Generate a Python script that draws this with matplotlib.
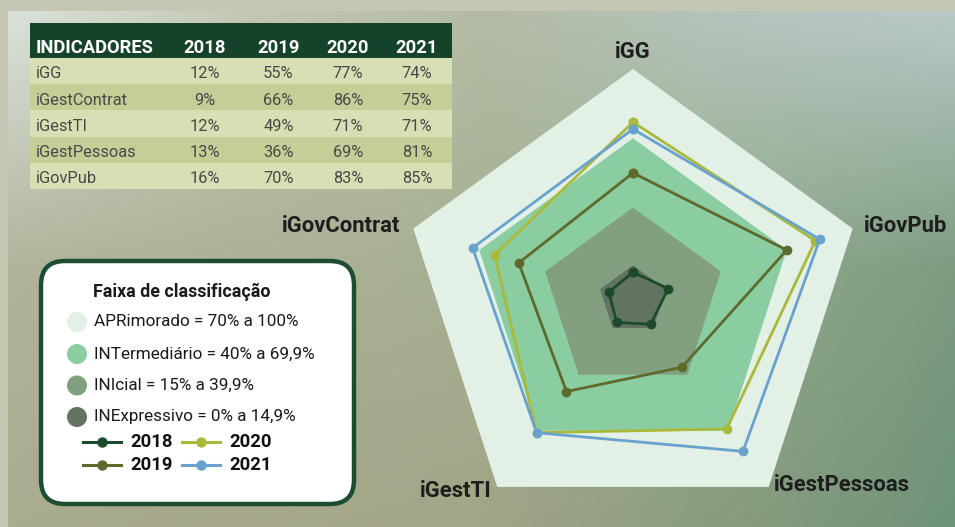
import numpy as np
import matplotlib
matplotlib.use("Agg")
import matplotlib.pyplot as plt
from matplotlib.patches import Rectangle, FancyBboxPatch, Circle
from matplotlib.lines import Line2D

plt.rcParams['font.family'] = ['Roboto', 'DejaVu Sans']

# ---------------- data ----------------
table_indicators = ["iGG", "iGestContrat", "iGestTI", "iGestPessoas", "iGovPub"]
table_years = ["2018", "2019", "2020", "2021"]
table_2018 = [12, 9, 12, 13, 16]
table_2019 = [55, 66, 49, 36, 70]
table_2020 = [77, 86, 71, 69, 83]
table_2021 = [74, 75, 71, 81, 85]

radar_axes = ["iGG", "iGovPub", "iGestPessoas", "iGestTI", "iGovContrat"]
radar_2018 = [12, 16, 13, 12, 11]
radar_2019 = [55, 70, 36, 49, 52]
radar_2020 = [77, 83, 69, 71, 63]
radar_2021 = [74, 85, 81, 71, 73]

band_labels = ["APRimorado = 70% a 100%", "INTermediário = 40% a 69,9%",
               "INIcial = 15% a 39,9%", "INExpressivo = 0% a 14,9%"]
band_levels = [100, 70, 40, 15]
band_colors = ["#e2f0e6", "#8acda1", "#82a080", "#627461"]

series_names = ["2018", "2019", "2020", "2021"]
series_colors = ["#1c4a2c", "#5d6a2c", "#aab93a", "#69a3cd"]
series_vals = [radar_2018, radar_2019, radar_2020, radar_2021]

W, H = 955, 527
fig = plt.figure(figsize=(W / 100, H / 100), dpi=100)
fig.patch.set_facecolor("#c5c7b2")

# overlay axes in pixel coordinates
ov = fig.add_axes([0, 0, 1, 1])
ov.set_xlim(0, W)
ov.set_ylim(H, 0)
ov.axis("off")

# ---------------- background gradient ----------------
def hx(h):
    return [int(h[i:i + 2], 16) / 255 for i in (1, 3, 5)]

ctrl_rows = [
    ["#dae3db", "#c3c8b3", "#b3bba4", "#b4c4bc", "#b9cac7"],
    ["#b1b49b", "#acb096", "#a6b092", "#93aa8d", "#7c9c80"],
    ["#aaac8e", "#a7a88a", "#a2a586", "#8a9c7e", "#6e9378"],
]
ctrl = np.array([[hx(c) for c in r] for r in ctrl_rows])
gw, gh = 480, 260
cx = np.linspace(0, 1, 5)
cy = np.linspace(0, 1, 3)
xg = np.linspace(0, 1, gw)
yg = np.linspace(0, 1, gh)
img = np.zeros((gh, gw, 3))
for c in range(3):
    rx = np.array([np.interp(xg, cx, ctrl[j, :, c]) for j in range(3)])
    img[:, :, c] = np.array([np.interp(yg, cy, rx[:, i]) for i in range(gw)]).T
ov.imshow(img, extent=(8, W, H, 11), aspect="auto", zorder=0, interpolation="bilinear")
ov.set_xlim(0, W)
ov.set_ylim(H, 0)

# ---------------- table ----------------
t_left, t_right = 30, 452
h_top, h_bot = 23, 58
row_h = 26.2
col_x = [205, 278.5, 348, 417]
row_colors = ["#d7dfb4", "#c4cf98"]
ov.add_patch(Rectangle((t_left, h_top), t_right - t_left, h_bot - h_top,
                       facecolor="#15432a", edgecolor="none", zorder=2))
ov.text(36, 53.3, "INDICADORES", color="white", fontsize=13.2, fontweight="bold",
        ha="left", va="baseline", zorder=3)
for x, y in zip(col_x, table_years):
    ov.text(x, 53.3, y, color="white", fontsize=13.2, fontweight="bold",
            ha="center", va="baseline", zorder=3)
cols = [table_2018, table_2019, table_2020, table_2021]
for i, name in enumerate(table_indicators):
    y0 = h_bot + i * row_h
    ov.add_patch(Rectangle((t_left, y0), t_right - t_left, row_h,
                           facecolor=row_colors[i % 2], edgecolor="none", zorder=2))
    base = y0 + 20.5
    ov.text(36, base, name, color="#484848", fontsize=11.8, fontweight="normal",
            ha="left", va="baseline", zorder=3)
    for x, col in zip(col_x, cols):
        ov.text(x, base, f"{col[i]}%", color="#484848", fontsize=11.8,
                fontweight="normal", ha="center", va="baseline", zorder=3)

# ---------------- legend box ----------------
ov.add_patch(FancyBboxPatch((41, 261), 313, 243,
                            boxstyle="round,pad=0,rounding_size=24",
                            facecolor="white", edgecolor="#1c4d32", linewidth=3.2, zorder=2))
ov.text(93, 292, "Faixa de classificação", fontsize=12.8, fontweight="bold",
        color="#1a1a1a", ha="left", va="center", zorder=3)
leg_y = [322, 354, 385.5, 417]
for y, lab, col in zip(leg_y, band_labels, band_colors):
    ov.add_patch(Circle((77, y), 10, facecolor=col, edgecolor="none", zorder=3))
    ov.text(94, y, lab, fontsize=12.3, color="#1a1a1a", ha="left", va="center", zorder=3)
leg_pos = [(83, 442), (83, 465), (182, 442), (182, 465)]
for (x, y), name, col in zip(leg_pos, series_names, series_colors):
    ov.add_line(Line2D([x, x + 38], [y, y], color=col, lw=2.2, zorder=3))
    ov.add_line(Line2D([x + 19], [y], color=col, marker="o", ms=6.5, zorder=4))
    ov.text(x + 47, y, name, fontsize=13.3, fontweight="bold", color="#111111",
            ha="left", va="center", zorder=3)

# ---------------- radar ----------------
cxp, cyp, R = 633, 300, 231
ax = fig.add_axes([(cxp - R) / W, (H - cyp - R) / H, 2 * R / W, 2 * R / H],
                  projection="polar")
ax.set_theta_zero_location("N")
ax.set_theta_direction(-1)
ax.set_ylim(0, 100)
ax.axis("off")

theta = np.linspace(0, 2 * np.pi, len(radar_axes), endpoint=False)
closed = np.append(theta, theta[0])
for lvl, col in zip(band_levels, band_colors):
    ax.fill(closed, [lvl] * len(closed), color=col, lw=0, zorder=1)
for vals, col in zip(series_vals, series_colors):
    v = list(vals) + [vals[0]]
    ax.plot(closed, v, color=col, lw=2, marker="o", ms=6, zorder=3, clip_on=False)

label_offsets = [(0, 17, "center"), (11, 3, "left"), (73, 2, "center"),
                 (-41, -4, "center"), (-13, 3, "right")]
for t, name, (dx, dy, ha) in zip(theta, radar_axes, label_offsets):
    ax.annotate(name, xy=(t, 100), xytext=(dx, dy), textcoords="offset pixels",
                ha=ha, va="center", fontsize=15.8, fontweight="bold",
                color="#1e1e1e", annotation_clip=False)

fig.savefig("out.png", dpi=100)
